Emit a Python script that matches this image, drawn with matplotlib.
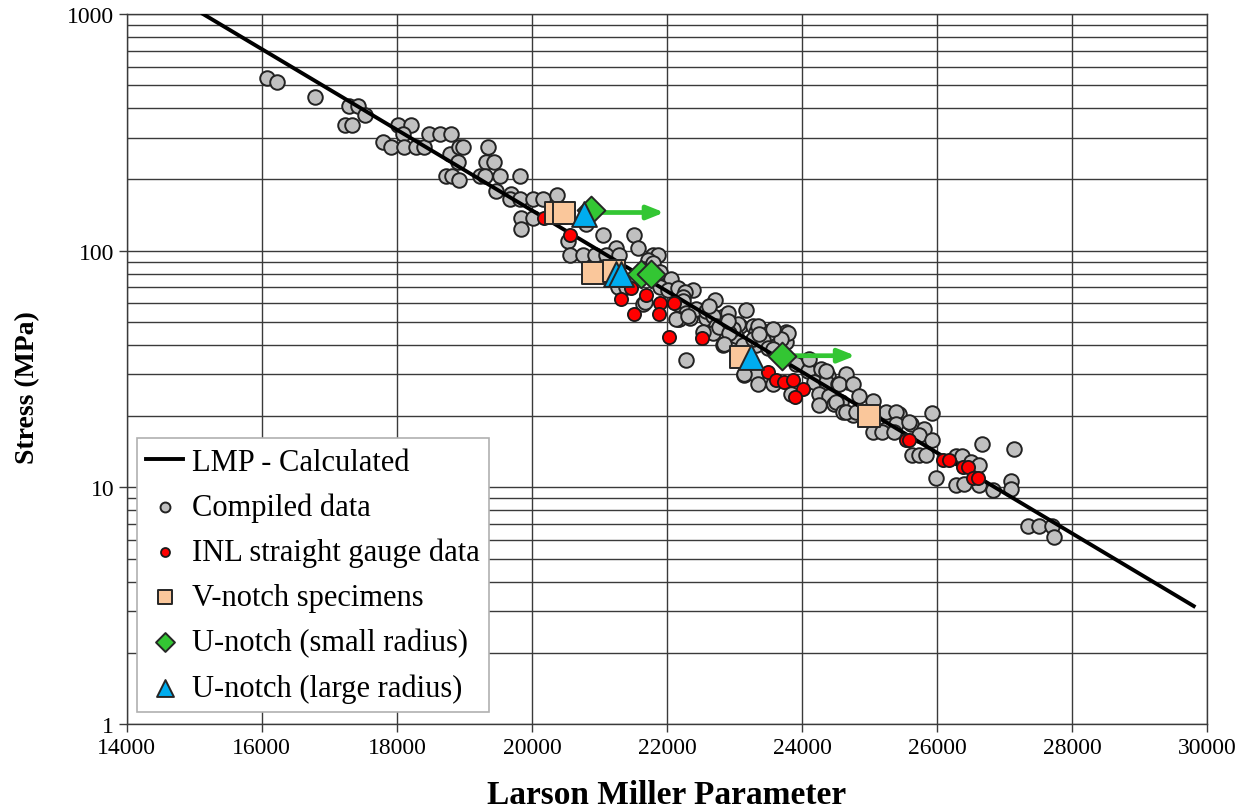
import numpy as np
import matplotlib.pyplot as plt
from matplotlib.ticker import FixedLocator, NullFormatter, LogLocator

plt.rcParams['font.family'] = ['Liberation Serif', 'DejaVu Serif']

# LMP - calculated curve
lmp_calc_x = [15130, 20000, 26000, 29800]
lmp_calc_y = [1000, 148, 14.0, 3.15]

# Compiled literature data
compiled_x = [
    16070, 16230, 16785, 17290, 17425, 17525, 17230, 17330, 18010, 18205,
    18085, 17795, 17910, 18105, 18280, 18405, 18475, 18635, 18795, 18785,
    18920, 18980, 18905, 18725, 18810, 18920, 19350, 19325, 19440, 19225,
    19300, 19520, 19820, 19465, 19695, 19680, 19820, 20015, 20165, 20370,
    19845, 20015, 19845, 20795, 20535, 21050, 21510, 21250, 21570, 20560,
    20755, 20930, 21100, 21285, 21790, 21865, 21715, 21640, 21790, 21890,
    22065, 21890, 22010, 22380, 22160, 22260, 21270, 21395, 22235, 22160,
    21640, 21670, 22235, 22705, 23170, 22505, 22285, 22160, 22335, 22185,
    22580, 22850, 22430, 22580, 22680, 22900, 22730, 22925, 23075, 23270,
    23320, 23470, 22825, 23025, 22680, 22530, 23765, 23515, 23665, 22825,
    22285, 23120, 23320, 23515, 23765, 23045, 23345, 22775, 22975, 23515,
    23790, 22925, 23270, 23420, 22850, 23490, 23690, 23565, 23145, 23320,
    23145, 23345, 23565, 23835, 23910, 24085, 24110, 24280, 24380, 24180,
    24355, 24525, 24675, 24650, 24355, 24550, 24750, 24255, 24405, 24575,
    24480, 24255, 24500, 24600, 24750, 24850, 24650, 24800, 24945, 25045,
    25245, 25440, 25390, 25615, 25070, 25245, 25390, 25045, 25190, 25365,
    25930, 25585, 25810, 25735, 25930, 25635, 25735, 25835, 25980, 26670,
    27140, 26280, 26375, 26500, 26625, 26280, 26400, 26625, 26820, 27090,
    27090, 27340, 27510, 27700, 27725, 22136, 22308, 22629, 22900, 23368,
    23566,
]
compiled_y = [
    535, 514, 446, 410, 410, 374, 340, 340, 340, 341,
    311, 289, 273, 273, 273, 273, 311, 311, 311, 256,
    273, 273, 238, 206, 206, 198, 275, 238, 238, 206,
    206, 206, 206, 178, 174, 165, 165, 165, 165, 172,
    137, 137, 124, 130, 110, 116, 116, 103, 103, 96,
    96, 96, 96, 96, 96, 96, 91, 84, 89, 81.5,
    76, 70, 68.5, 68, 69.4, 66.7, 70, 70, 63.6, 59.5,
    59.5, 60.5, 61.5, 62, 56, 55.5, 54.5, 51.5, 52, 51.5,
    51.8, 53, 56.7, 55.7, 53, 54.5, 48.2, 48.2, 48.2, 48.2,
    45.2, 45.2, 43.8, 43.8, 45, 45.2, 45.2, 43, 43, 40,
    34.5, 40, 40, 40, 41, 49, 48, 47.4, 46.7, 45,
    45, 45, 42.4, 41.8, 40.5, 38.7, 42.4, 38.4, 29.8, 29.8,
    30.2, 27.3, 27.3, 24.9, 33.2, 31.1, 34.9, 31.6, 29.6, 27.8,
    27.8, 27.3, 28.0, 30.1, 31.1, 27.3, 27.3, 24.9, 24.4, 22.9,
    22.5, 22.3, 22.9, 20.8, 20.2, 24.4, 20.8, 20.8, 20.8, 23.2,
    20.8, 20.4, 20.8, 18.5, 17.3, 17.7, 18.5, 17.2, 17.2, 17.2,
    20.6, 18.8, 17.7, 16.6, 15.8, 13.7, 13.7, 13.7, 11.0, 15.3,
    14.5, 13.6, 13.6, 12.8, 12.4, 10.2, 10.3, 10.2, 9.7, 10.6,
    9.8, 6.85, 6.85, 6.85, 6.15, 51.5, 53, 58.5, 50.7, 44.5,
    46.7,
]

# INL straight gauge tests
inl_x = [20173, 20558, 21075, 21460, 21323, 21692, 21889, 22111, 21509, 21879,
         22027, 22521, 23491, 23615, 23738, 23861, 24009, 23901, 25538, 25587,
         26080, 26179, 26376, 26450, 26524, 26598]
inl_y = [137, 116, 80, 69.4, 62.5, 65, 60, 60, 54, 54,
         43, 42.6, 30.8, 28.5, 28, 28.5, 26, 24, 15.9, 15.9,
         13, 13, 12.2, 12.2, 11, 11]

# Notched specimens
vnotch_x = [20350, 20473, 20903, 21212, 23098, 24996]
vnotch_y = [144, 144, 80.5, 82, 35.7, 20.1]
usmall_x = [20879, 21618, 21766, 23704]
usmall_y = [148, 80, 80, 36]
ularge_x = [20765, 21249, 21323, 23246]
ularge_y = [143, 80, 80, 35.7]

# run-outs (still running) shown as arrows
runout_start = [20977, 23820]
runout_end = [21960, 24790]
runout_y = [145, 36]

fig = plt.figure(figsize=(12.5, 8.12), dpi=100)
ax = fig.add_axes([0.1014, 0.1071, 0.8644, 0.8744])

ax.set_yscale('log')
ax.set_xlim(14000, 30000)
ax.set_ylim(1, 1000)

ax.scatter(compiled_x, compiled_y, s=110, facecolor='#c0c0c0', edgecolor='#222222',
           linewidth=1.4, zorder=3, label='Compiled data')
ax.plot(lmp_calc_x, lmp_calc_y, color='black', lw=2.8, zorder=4, label='LMP - Calculated')
ax.scatter(inl_x, inl_y, s=90, facecolor='#ff0000', edgecolor='#1a1a1a',
           linewidth=1.3, zorder=5, label='INL straight gauge data')
ax.scatter(vnotch_x, vnotch_y, s=240, marker='s', facecolor='#fac79b', edgecolor='#262626',
           linewidth=1.4, zorder=6, label='V-notch specimens')
ax.scatter(usmall_x, usmall_y, s=200, marker='D', facecolor='#33c633', edgecolor='#262626',
           linewidth=1.4, zorder=7, label='U-notch (small radius)')
ax.scatter(ularge_x, ularge_y, s=320, marker='^', facecolor='#00adef', edgecolor='#262626',
           linewidth=1.4, zorder=7, label='U-notch (large radius)')

for x0, x1, yv in zip(runout_start, runout_end, runout_y):
    ax.annotate('', xy=(x1, yv), xytext=(x0, yv),
                arrowprops=dict(arrowstyle='-|>,head_length=1.0,head_width=0.4',
                                color='#33c633', lw=3.4, shrinkA=0, shrinkB=0),
                zorder=6)

# grid: vertical every 2000, horizontal at every log sub-division
ax.set_xticks(np.arange(14000, 30001, 2000))
ax.yaxis.set_major_locator(FixedLocator([1, 10, 100, 1000]))
ax.set_yticklabels(['1', '10', '100', '1000'])
ax.yaxis.set_minor_locator(LogLocator(base=10, subs=np.arange(2, 10)))
ax.yaxis.set_minor_formatter(NullFormatter())
ax.grid(True, which='major', axis='both', color='#3a3a3a', lw=1.0, zorder=0)
ax.grid(True, which='minor', axis='y', color='#3a3a3a', lw=1.0, zorder=0)
ax.tick_params(axis='both', which='major', direction='out', length=6, width=1,
               color='#3a3a3a', labelsize=17, pad=3)
ax.tick_params(axis='y', which='minor', length=0)
for s in ax.spines.values():
    s.set_color('#3a3a3a')
    s.set_linewidth(1.0)
ax.set_axisbelow(True)

ax.set_xlabel('Larson Miller Parameter', fontsize=24, fontweight='bold')
ax.xaxis.set_label_coords(0.5, -0.078)
ax.set_ylabel('Stress (MPa)', fontsize=20, fontweight='bold')
ax.yaxis.set_label_coords(-0.08, 0.475)

handles, labels = ax.get_legend_handles_labels()
order = [1, 0, 2, 3, 4, 5]
leg = ax.legend([handles[i] for i in order], [labels[i] for i in order],
                loc='lower left', bbox_to_anchor=(0.0095, 0.017), borderaxespad=0,
                fontsize=22, markerscale=0.68, handlelength=1.2, handletextpad=0.3,
                labelspacing=0.52, borderpad=0.3, fancybox=False,
                edgecolor='#b0b0b0', framealpha=1)
leg.get_frame().set_linewidth(1.2)

fig.savefig('out.png', dpi=100)
